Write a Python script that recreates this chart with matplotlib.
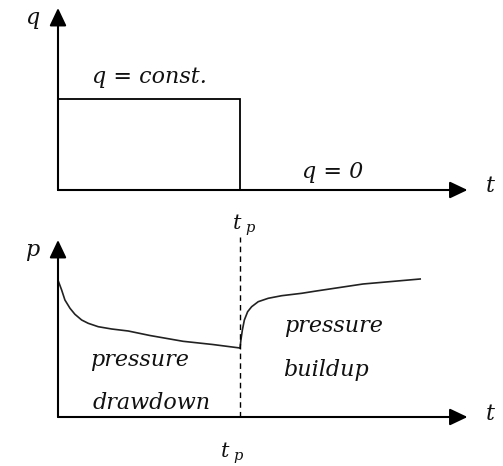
import matplotlib.pyplot as plt

# Data (arbitrary units, t_p = 1)
t_p = 1.0
q_const = 1.0
t_end = 2.25

# pressure drawdown curve
t_draw = [0.003, 0.020, 0.038, 0.066, 0.093, 0.130, 0.166, 0.221, 0.295,
          0.386, 0.505, 0.687, 0.85, 1.0]
p_draw = [1.353, 1.27, 1.17, 1.087, 1.027, 0.97, 0.937, 0.903, 0.88,
          0.86, 0.815, 0.757, 0.725, 0.69]

# pressure buildup curve
t_build = [1.0, 1.005, 1.013, 1.024, 1.042, 1.064, 1.10, 1.155, 1.229,
           1.339, 1.412, 1.676, 1.99]
p_build = [0.69, 0.77, 0.87, 0.97, 1.053, 1.103, 1.153, 1.187, 1.213,
           1.237, 1.258, 1.33, 1.38]

W, H = 503, 466
fig = plt.figure(figsize=(W / 100, H / 100), dpi=100)
fig.patch.set_facecolor('white')

plt.rcParams['mathtext.fontset'] = 'dejavuserif'
FONT = dict(family='DejaVu Serif', style='italic', fontsize=16, color='#111111')


def px_axes(x0, x1, y_bottom, y_top):
    # axes placed by pixel box
    return fig.add_axes([x0 / W, 1 - y_bottom / H, (x1 - x0) / W, (y_bottom - y_top) / H])


def axis_arrows(ax, xmax, ymax):
    style = '-|>,head_length=0.4,head_width=0.19'
    for xy in [(xmax, 0), (0, ymax)]:
        ax.annotate('', xy=xy, xytext=(0, 0), xycoords='data',
                    arrowprops=dict(arrowstyle=style, lw=1.5, color='black',
                                    mutation_scale=27, shrinkA=0, shrinkB=0),
                    annotation_clip=False)


# --- top: rate history
ax1 = px_axes(58, 58 + t_end * 182, 190, 8)
ax1.set_xlim(0, t_end)
ax1.set_ylim(0, 2.0)
ax1.axis('off')
ax1.plot([0, 0, t_p, t_p], [0, q_const, q_const, 0], color='black', lw=1.3,
         solid_joinstyle='miter', clip_on=False)
axis_arrows(ax1, t_end, 2.0)
ax1.text(-0.143, 1.89, 'q', ha='center', va='center', **FONT)
ax1.text(0.505, 1.242, 'q = const.', ha='center', va='center', **FONT)
ax1.text(1.511, 0.198, 'q = 0', ha='center', va='center', **FONT)
ax1.text(2.374, 0.04, 't', ha='center', va='center', **FONT)

# --- bottom: pressure response
ax2 = px_axes(58, 58 + t_end * 182, 417, 240)
ax2.set_xlim(0, t_end)
ax2.set_ylim(0, 1.77)
ax2.axis('off')
ax2.plot(t_draw, p_draw, color='#222222', lw=1.2, clip_on=False)
ax2.plot(t_build, p_build, color='#222222', lw=1.2, clip_on=False)
ax2.plot([t_p, t_p], [0, 1.8], color='black', lw=1.0, ls=(0, (4, 3)), clip_on=False)
axis_arrows(ax2, t_end, 1.77)
ax2.text(-0.143, 1.67, 'p', ha='center', va='center', **FONT)
ax2.text(1.022, 1.92, r'$t_{\ p}$', ha='center', va='center', fontsize=15, color='#111111')
ax2.text(0.956, -0.36, r'$t_{\ p}$', ha='center', va='center', fontsize=15, color='#111111')
ax2.text(0.45, 0.57, 'pressure', ha='center', va='center', **FONT)
ax2.text(0.516, 0.14, 'drawdown', ha='center', va='center', **FONT)
ax2.text(1.511, 0.91, 'pressure', ha='center', va='center', **FONT)
ax2.text(1.473, 0.47, 'buildup', ha='center', va='center', **FONT)
ax2.text(2.374, 0.03, 't', ha='center', va='center', **FONT)

fig.savefig('out.png', dpi=100)
